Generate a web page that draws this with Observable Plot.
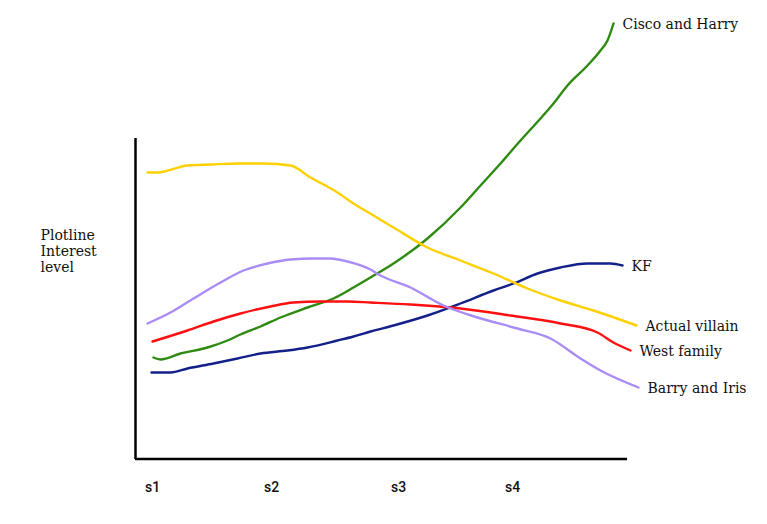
<!DOCTYPE html>
<html><head><meta charset="utf-8">
<script src="https://cdn.jsdelivr.net/npm/d3@7"></script>
<script src="https://cdn.jsdelivr.net/npm/@observablehq/plot@0.6"></script>
<style>body{margin:0;background:#fff}</style>
</head><body><div id="chart"></div>
<script>
// Series names and colours
const seriesNames = ["Cisco and Harry", "KF", "Actual villain", "West family", "Barry and Iris"];
const seriesColors = ["#2f8a12", "#14208a", "#ffd000", "#ff1010", "#a98cf6"];

// Time position (arbitrary units along the seasons) and interest level
const ciscoX = [18,25,45,72,92,105,125,145,172,198,218,235,258,292,325,345,365,385,405,418,432,452,465,472,478];
const ciscoY = [102,100,106,112,119,125,133,142,152,161,172,182,196,221,252,274,296,319,341,356,374,394,409,419,436];

const kfX = [16,35,52,78,102,125,152,172,202,218,235,258,292,325,358,378,402,425,452,475,487];
const kfY = [87,87,91,96,101,106,109,112,119,123,128,134,144,156,169,176,186,192,196,196,194];

const villainX = [12,22,52,75,105,128,155,175,202,218,238,258,292,325,358,392,425,458,501];
const villainY = [287,287,294,295,296,296,294,282,267,256,244,232,212,199,186,171,159,149,134];

const westX = [17,52,78,105,135,158,185,212,235,275,325,375,425,462,478,495];
const westY = [118,129,138,146,153,157,158,158,157,155,151,144,136,127,117,109];

const barryX = [12,35,58,85,108,132,155,178,195,212,235,245,275,308,342,382,415,445,465,503];
const barryY = [136,147,161,177,189,196,200,201,201,198,190,184,172,154,142,131,121,101,89,72];

// Tick labels
const tickLabels = ["s1", "s2", "s3", "s4"];
const tickPositions = [17, 136, 263, 377];
const yLabel = "Plotline\nInterest\nlevel";

const seriesXs = [ciscoX, kfX, villainX, westX, barryX];
const seriesYs = [ciscoY, kfY, villainY, westY, barryY];
const data = seriesNames.flatMap((name, k) =>
  seriesXs[k].map((x, i) => ({name, x, y: seriesYs[k][i]})));
const ticks = tickLabels.map((label, i) => ({label, x: tickPositions[i]}));

const chart = Plot.plot({
  width: 767, height: 524,
  marginLeft: 135, marginRight: 140, marginTop: 20, marginBottom: 65,
  x: {domain: [0, 492], axis: null},
  y: {domain: [0, 439], axis: null},
  color: {domain: seriesNames, range: seriesColors},
  style: {background: "#fff", fontFamily: "'DejaVu Serif', serif", color: "#111"},
  marks: [
    Plot.ruleX([0], {y1: 0, y2: 321, stroke: "#000", strokeWidth: 2.5}),
    Plot.ruleY([0.5], {x1: 0, x2: 492, stroke: "#000", strokeWidth: 2.5}),
    Plot.line(data, {x: "x", y: "y", z: "name", stroke: "name", strokeWidth: 2.4, curve: "monotone-x"}),
    Plot.text(data, Plot.selectLast({x: "x", y: "y", z: "name", text: "name", textAnchor: "start", dx: 9, dy: 1, fontSize: 14, fill: "#111"})),
    Plot.text(ticks, {x: "x", y: 0, dy: 28, text: "label", fontFamily: "Roboto", fontSize: 14, fontWeight: 500, fill: "#111"}),
    Plot.text([yLabel], {frameAnchor: "left", dx: -95, dy: 11, textAnchor: "start", lineHeight: 1.14, fontSize: 14, fill: "#111"})
  ]
});
document.getElementById("chart").appendChild(chart);
</script>
</body></html>
